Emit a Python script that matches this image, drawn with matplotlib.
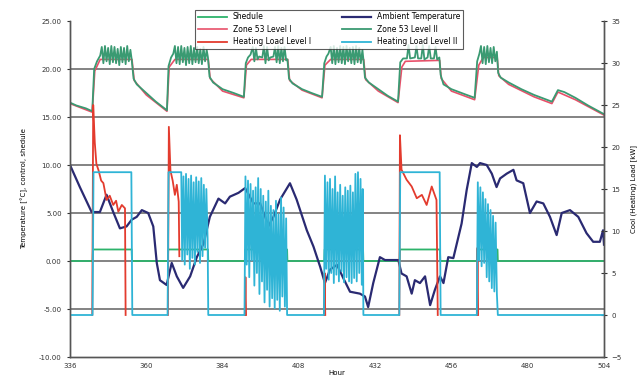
import matplotlib
matplotlib.use("Agg")
import matplotlib.pyplot as plt

NA = float("nan")

# --- data (hour, value) ---
hour_ticks = [336, 360, 384, 408, 432, 456, 480, 504]

schedule = [(336, 0), (343.1, 0), (343.2, 1.2), (355.4, 1.2), (355.5, 0), (366.8, 0), (366.9, 1.2),
            (379.4, 1.2), (379.5, 0), (391.0, 0), (391.1, 1.2), (404.3, 1.2), (404.4, 0), (416.0, 0),
            (416.1, 1.2), (428.2, 1.2), (428.3, 0), (439.7, 0), (439.8, 1.2), (452.4, 1.2), (452.5, 0),
            (464.0, 0), (464.1, 1.2), (470.5, 1.2), (470.6, 0), (504, 0)]

ambient = [(336, 10.0), (339.1, 7.7), (342.8, 5.1), (345.4, 5.1), (347.5, 6.9), (349.6, 5.1), (351.7, 3.4),
           (353.8, 3.6), (355.4, 4.3), (357.0, 4.6), (358.6, 5.3), (360.6, 5.0), (362.2, 3.6), (363.3, -0.2),
           (364.3, -2.0), (366.4, -2.5), (368.0, -0.2), (369.6, -1.6), (371.6, -2.8), (373.8, -1.6),
           (375.9, 0.4), (378.0, 1.8), (380.0, 4.6), (382.7, 6.5), (384.8, 6.0), (386.3, 6.7), (389.0, 7.1),
           (391.1, 7.6), (393.7, 6.0), (395.8, 6.0), (397.4, 4.6), (398.4, 3.6), (400.0, 4.6), (402.1, 6.4),
           (405.2, 8.1), (407.3, 6.4), (410.5, 3.2), (412.6, 1.5), (414.7, -0.6), (416.2, -2.3),
           (417.8, -0.9), (420.0, -0.4), (422.0, -1.8), (424.1, -3.2), (427.2, -3.4), (428.8, -3.7),
           (429.8, -4.8), (431.4, -2.3), (433.5, 0.4), (435.1, 0.1), (437.7, 0.1), (439.3, 0.1),
           (440.3, -1.3), (441.9, -1.6), (443.5, -3.4), (444.5, -2.0), (446.1, -2.3), (447.7, -1.6),
           (449.3, -4.6), (450.8, -3.0), (452.4, -1.6), (453.5, -2.3), (455.0, 0.4), (456.6, 0.3),
           (459.2, 3.9), (460.8, 7.4), (462.4, 10.2), (464.0, 9.8), (465.0, 10.2), (467.1, 10.0),
           (468.7, 9.1), (470.2, 7.7), (471.3, 8.6), (473.4, 9.1), (475.5, 9.5), (476.5, 8.4), (478.6, 8.1),
           (480.7, 5.0), (482.8, 6.2), (484.9, 6.0), (487.0, 4.6), (489.1, 2.7), (490.7, 5.0), (493.3, 5.3),
           (495.9, 4.6), (498.5, 2.9), (500.6, 2.0), (502.7, 2.0), (503.7, 3.2), (504, 1.7)]

zone_1 = [(336, 16.4), (343.0, 15.5), (343.8, 19.8), (345.5, 21.0), (355.5, 21.0), (356.2, 18.8), (360, 17.3),
          (366.5, 15.6), (367.2, 20.2), (369, 21.0), (379.5, 21.0), (380.1, 19.0), (384, 17.7), (390.7, 17.0),
          (391.5, 20.4), (393, 21.0), (404.5, 21.0), (405.1, 18.8), (409, 17.8), (415.3, 17.0), (416.2, 20.4),
          (418, 21.0), (428.4, 21.0), (429, 18.9), (433, 17.7), (439.2, 16.5), (440.4, 20.2), (441.5, 20.8),
          (452.3, 20.9), (452.8, 19.0), (456, 17.7), (463.3, 16.8), (464.6, 20.4), (466, 21.2), (470.4, 21.2),
          (470.9, 19.3), (474, 18.4), (482, 17.1), (487.6, 16.4), (489.5, 17.6), (495, 16.8), (504, 15.2)]

zone_2 = [(336, 16.5), (338, 16.2), (341, 15.9), (343.0, 15.6), (343.6, 20.0), (344.5, 20.8), (345.5, 21.4),
          (346.0, 22.3), (346.5, 20.6), (347.0, 22.4), (347.5, 20.8), (348.0, 22.2), (348.5, 20.5), (349.0, 22.4),
          (349.5, 20.7), (350.0, 22.3), (350.5, 20.6), (351.0, 22.1), (351.5, 20.4), (352.0, 22.3), (352.5, 20.7),
          (353.0, 22.2), (353.5, 20.5), (354.0, 22.4), (354.5, 20.8), (355.0, 22.0), (355.4, 21.0),
          (356.0, 19.0), (357.0, 18.4), (360, 17.5), (363, 16.6), (366.5, 15.7),
          (367.0, 20.3), (367.8, 21.2), (368.5, 21.6),
          (369.0, 22.4), (369.5, 20.6), (370.0, 22.3), (370.5, 20.5), (371.0, 22.4), (371.5, 20.7), (372.0, 22.2),
          (372.5, 20.4), (373.0, 22.3), (373.5, 20.6), (374.0, 22.4), (374.5, 20.5), (375.0, 22.2), (375.5, 20.7),
          (376.0, 22.3), (376.5, 20.6), (377.0, 22.1), (377.5, 20.5), (378.0, 22.3), (378.5, 20.8), (379.0, 22.0),
          (379.4, 21.2),
          (379.9, 19.2), (381, 18.6), (384, 17.9), (387.5, 17.5), (390.7, 17.1),
          (391.3, 20.6), (392.0, 21.2), (392.8, 21.5),
          (393.5, 22.3), (394.0, 20.8), (394.5, 22.2), (395.0, 21.0), (395.5, 21.3), (396.5, 21.2), (397.0, 22.4),
          (397.5, 20.6), (398.0, 22.3), (398.5, 20.9), (399.0, 21.2), (400.0, 21.3), (400.5, 22.3), (401.0, 20.7),
          (401.5, 22.4), (402.0, 20.6), (402.5, 22.2), (403.0, 20.8), (403.5, 22.3), (404.0, 20.9), (404.4, 21.0),
          (404.9, 19.0), (406, 18.5), (409, 17.9), (412, 17.5), (415.3, 17.1),
          (416.0, 20.6), (416.7, 21.3), (417.3, 21.6),
          (418.0, 22.3), (418.5, 20.6), (419.0, 22.4), (419.5, 20.5), (420.0, 22.2), (420.5, 20.7), (421.0, 22.4),
          (421.5, 20.6), (422.0, 22.3), (422.5, 20.5), (423.0, 22.4), (423.5, 20.8), (424.0, 22.2), (424.5, 20.6),
          (425.0, 22.3), (425.5, 20.5), (426.0, 22.4), (426.5, 20.7), (427.0, 22.2), (427.5, 20.6), (428.0, 22.0),
          (428.3, 21.0),
          (428.8, 19.1), (430, 18.6), (433, 17.9), (436, 17.2), (439.2, 16.6),
          (439.9, 20.7), (440.8, 21.1),
          (442.0, 21.1), (442.5, 22.5), (443.0, 21.1), (444.5, 21.2), (445.0, 22.4), (445.5, 21.1), (446.5, 21.1),
          (447.0, 22.5), (447.5, 21.0), (448.5, 21.2), (449.0, 22.4), (449.5, 21.1), (450.5, 21.1), (451.0, 22.3),
          (451.5, 21.0), (452.2, 21.2),
          (452.6, 19.4), (453.5, 18.4), (456, 17.9), (460, 17.4), (463.3, 17.0),
          (464.1, 20.8), (464.8, 21.6),
          (465.3, 22.4), (465.8, 20.6), (466.3, 22.3), (466.8, 20.5), (467.3, 22.4), (467.8, 20.7), (468.3, 22.2),
          (468.8, 20.6), (469.3, 22.3), (469.8, 20.8), (470.3, 21.8),
          (470.7, 19.6), (471.5, 19.1), (474, 18.6), (478, 17.9), (482, 17.3), (487.6, 16.6), (489.5, 17.8),
          (491.5, 17.6), (495, 17.0), (499, 16.2), (504, 15.3)]

# heating load level I: only the heating bursts (baseline lies under the cyan line)
heat_1 = [(343.0, 0), (343.3, 25.0), (343.8, 20.5), (344.3, 18.0), (345.0, 17.2), (345.8, 16.0),
          (346.5, 15.7), (347.5, 13.7), (348.5, 14.2), (349.6, 13.1), (350.5, 13.6), (351.2, 12.3), (352.3, 13.1),
          (353.3, 12.7), (353.5, 0), (353.6, NA),
          (366.8, 0), (367.1, 22.4), (367.6, 17.2), (368.3, 16.0), (369.0, 14.3), (369.6, 15.5), (370.2, 13.5),
          (370.4, 7.0), (370.5, NA),
          (391.0, 0), (391.2, 4.5), (391.4, 0), (391.5, NA),
          (415.9, 0), (416.1, 5.0), (416.3, 0), (416.4, NA),
          (439.6, 0), (439.8, 21.4), (440.3, 17.3), (441.9, 16.1), (443.5, 15.3), (445.1, 13.9), (446.7, 14.3),
          (448.2, 13.1), (449.8, 15.3), (451.3, 13.7), (451.7, 0), (451.8, NA),
          (464.0, 0), (464.2, 8.0), (464.4, 0)]

heat_2 = [(336, 0), (343.1, 0), (343.4, 17), (355.3, 17), (355.6, 0),
          (366.7, 0), (367.0, 17), (371.0, 17), (371.3, 6.5), (371.7, 16.5), (372.1, 6.0), (372.5, 16.8),
          (372.9, 7.2), (373.3, 16.2), (373.7, 5.5), (374.1, 16.6), (374.5, 6.8), (374.9, 15.8), (375.3, 6.0),
          (375.7, 16.4), (376.1, 7.5), (376.5, 15.9), (376.9, 6.2), (377.3, 16.3), (377.7, 7.0), (378.1, 15.5),
          (378.5, 8.0), (378.9, 15.0), (379.3, 9.0), (379.5, 0),
          (390.9, 0), (391.2, 16.5), (391.6, 6.0), (392.0, 16.0), (392.4, 4.5), (392.8, 15.6), (393.2, 6.5),
          (393.6, 14.8), (394.0, 3.5), (394.4, 15.2), (394.8, 5.0), (395.2, 16.3), (395.6, 2.5), (396.0, 15.0),
          (396.4, 4.0), (396.8, 14.2), (397.2, 1.5), (397.6, 13.5), (398.0, 3.0), (398.4, 14.8), (398.8, 1.0),
          (399.2, 13.0), (399.6, 2.0), (400.0, 12.5), (400.4, 0.8), (400.8, 13.6), (401.2, 1.8), (401.6, 12.0),
          (402.0, 0.5), (402.4, 14.0), (402.8, 2.2), (403.2, 12.8), (403.6, 1.0), (404.0, 11.5), (404.3, 0),
          (415.9, 0), (416.2, 16.6), (416.6, 5.5), (417.0, 15.8), (417.4, 4.2), (417.8, 16.2), (418.2, 5.0),
          (418.6, 15.0), (419.0, 3.8), (419.4, 16.5), (419.8, 4.8), (420.2, 14.6), (420.6, 4.0), (421.0, 15.5),
          (421.4, 5.2), (421.8, 14.2), (422.2, 3.9), (422.6, 15.2), (423.0, 4.5), (423.4, 14.8), (423.8, 4.0),
          (424.2, 15.4), (424.6, 3.8), (425.0, 14.6), (425.4, 4.4), (425.8, 16.8), (426.2, 4.0), (426.6, 17.0),
          (427.0, 5.0), (427.4, 16.2), (427.8, 3.6), (428.1, 15.0), (428.3, 0),
          (439.6, 0), (439.9, 17), (452.3, 17), (452.6, 0),
          (464.0, 0), (464.3, 15.8), (464.7, 6.5), (465.1, 15.2), (465.5, 5.8), (465.9, 14.6), (466.3, 6.2),
          (466.7, 13.8), (467.1, 4.5), (467.5, 13.2), (467.9, 4.0), (468.3, 12.5), (468.7, 3.2), (469.1, 11.8),
          (469.5, 2.8), (469.9, 11.0), (470.3, 2.5), (470.6, 0), (504, 0)]


def xy(pairs):
    return [p[0] for p in pairs], [p[1] for p in pairs]


fig = plt.figure(figsize=(6.43, 3.85), dpi=100)
ax1 = fig.add_axes([70 / 643, 28 / 385, 534 / 643, 336 / 385])
ax2 = ax1.twinx()

for g in [-5, 0, 5, 10, 15, 20]:
    ax1.axhline(g, color="#6e6e6e", lw=1.2, zorder=0)

h, v = xy(zone_1)
l_z1, = ax1.plot(h, v, color="#e8506a", lw=1.2, label="Zone 53 Level I")
h, v = xy(zone_2)
l_z2, = ax1.plot(h, v, color="#3a9a72", lw=1.3, label="Zone 53 Level II")
h, v = xy(schedule)
l_s, = ax1.plot(h, v, color="#2db36b", lw=1.3, label="Shedule")
h, v = xy(ambient)
l_a, = ax1.plot(h, v, color="#2a2a72", lw=1.6, label="Ambient Temperature")

# red first so the cyan baseline stays on top
h, v = xy(heat_1)
l_h1, = ax2.plot(h, v, color="#e33b2e", lw=1.3, label="Heating Load Level I")
h, v = xy(heat_2)
l_h2, = ax2.plot(h, v, color="#2fb4d6", lw=1.3, label="Heating Load Level II")

ax1.set_xlim(336, 504)
ax1.set_ylim(-10, 25)
ax2.set_ylim(-5, 35)
ax1.set_xticks(hour_ticks)
ax1.set_yticks([-10, -5, 0, 5, 10, 15, 20, 25])
ax1.set_yticklabels(["%.2f" % t for t in [-10, -5, 0, 5, 10, 15, 20, 25]])
ax2.set_yticks([-5, 0, 5, 10, 15, 20, 25, 30, 35])

for ax in (ax1, ax2):
    ax.spines["top"].set_visible(False)
    for s in ("left", "right", "bottom"):
        ax.spines[s].set_color("#555555")
        ax.spines[s].set_linewidth(1.0)
ax1.tick_params(axis="x", length=0, labelsize=5, pad=4, colors="#333333")
ax1.tick_params(axis="y", length=2.5, labelsize=5, colors="#333333")
ax2.tick_params(axis="y", direction="inout", length=4, labelsize=5, colors="#333333")

ax1.set_xlabel("Hour", fontsize=5, labelpad=1)
ax1.set_ylabel("Temperature [°C], control, shedule", fontsize=5, labelpad=8)
ax2.set_ylabel("Cool (Heating) Load [kW]", fontsize=5, labelpad=6)

handles = [l_s, l_z1, l_h1, l_a, l_z2, l_h2]
leg = ax2.legend(handles, [x.get_label() for x in handles], ncol=2, loc="upper center",
                 bbox_to_anchor=(0.485, 1.045), fontsize=5.5, frameon=True, fancybox=False,
                 borderpad=0.35, labelspacing=0.45, handlelength=3.8, columnspacing=4.0)
leg.get_frame().set_edgecolor("#333333")
leg.get_frame().set_linewidth(0.8)

fig.savefig("out.png", dpi=100)
